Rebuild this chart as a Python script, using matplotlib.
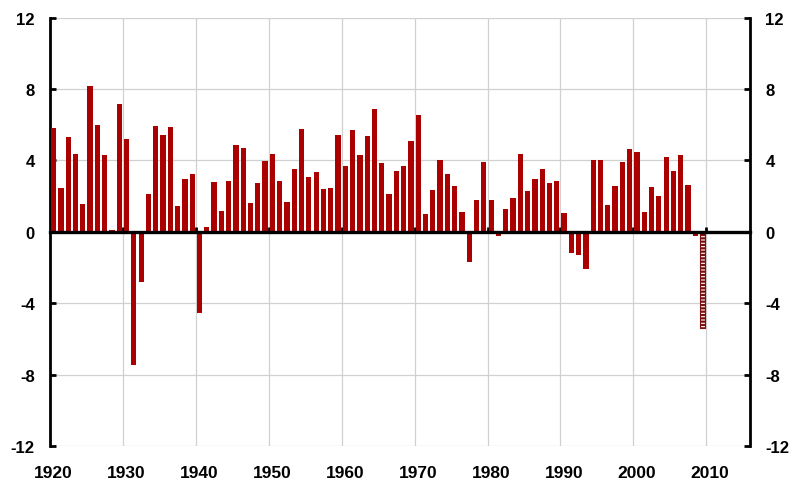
import matplotlib
matplotlib.use("Agg")
import matplotlib.pyplot as plt
import matplotlib.transforms as mtransforms
import numpy as np

# annual growth, %, 1920-2008
years = list(range(1920, 2009))
growth = [5.83, 2.48, 5.33, 4.34, 1.58, 8.16, 5.98, 4.30, 0.10, 7.17,
          5.21, -7.45, -2.83, 2.14, 5.92, 5.40, 5.88, 1.43, 2.96, 3.24,
          -4.54, 0.28, 2.81, 1.19, 2.85, 4.86, 4.67, 1.62, 2.72, 3.97,
          4.37, 2.85, 1.68, 3.50, 5.77, 3.05, 3.37, 2.42, 2.46, 5.42,
          3.71, 5.72, 4.30, 5.36, 6.87, 3.87, 2.14, 3.43, 3.71, 5.07,
          6.54, 0.99, 2.35, 4.02, 3.24, 2.59, 1.10, -1.68, 1.81, 3.90,
          1.76, -0.24, 1.28, 1.88, 4.35, 2.29, 2.94, 3.53, 2.75, 2.85,
          1.08, -1.17, -1.27, -2.10, 4.04, 4.04, 1.53, 2.55, 3.91, 4.65,
          4.47, 1.13, 2.49, 1.99, 4.19, 3.39, 4.33, 2.62, -0.24]
# projection
proj_years = [2009]
proj_growth = [-5.40]

decades = list(range(1920, 2020, 10))
yticks = [-12, -8, -4, 0, 4, 8, 12]

plt.rcParams['font.family'] = ['Liberation Sans', 'DejaVu Sans']
plt.rcParams['axes.unicode_minus'] = False
plt.rcParams['hatch.linewidth'] = 1.6

fig = plt.figure(figsize=(7.92, 4.81), dpi=100)
ax = fig.add_axes([0.0631, 0.0701, 0.8839, 0.8914])

red = '#aa0000'
ax.bar(np.array(years) + 0.5, growth, width=0.72, color=red, linewidth=0, zorder=3)
ax.bar(np.array(proj_years) + 0.5, proj_growth, width=0.72, facecolor='white',
       edgecolor='#7a1010', hatch='-----', linewidth=0.8, zorder=3)

ax.set_xlim(1920, 2016)
ax.set_ylim(-12, 12)

# gridlines
ax.set_yticks(yticks)
ax.set_xticks(decades[1:])
ax.grid(True, color='#d0d0d0', linewidth=0.9, zorder=0)
ax.set_axisbelow(True)

# spines
ax.spines['top'].set_visible(False)
ax.spines['bottom'].set_position(('data', 0))
ax.spines['bottom'].set_linewidth(2.4)
ax.spines['bottom'].set_zorder(4)
ax.spines['left'].set_linewidth(2.0)
ax.spines['right'].set_linewidth(2.0)

ax.tick_params(axis='y', which='both', direction='in', length=4, width=2,
               left=True, right=True, labelleft=True, labelright=True,
               labelsize=12, pad=11)
for lbl in ax.get_yticklabels() + ax.yaxis.get_ticklabels(which='both'):
    lbl.set_fontweight('bold')
for t in ax.yaxis.get_major_ticks():
    t.label2.set_fontweight('bold')
ax.tick_params(axis='x', direction='in', length=3.5, width=2,
               labelbottom=False)

# year labels below the plot, centred on the bar of that year
trans = mtransforms.blended_transform_factory(ax.transData, ax.transAxes)
for d in decades:
    ax.text(d + 0.5, -0.06, str(d), transform=trans, ha='center', va='center',
            fontsize=12.5, fontweight='bold')

fig.savefig("out.png", dpi=100)
